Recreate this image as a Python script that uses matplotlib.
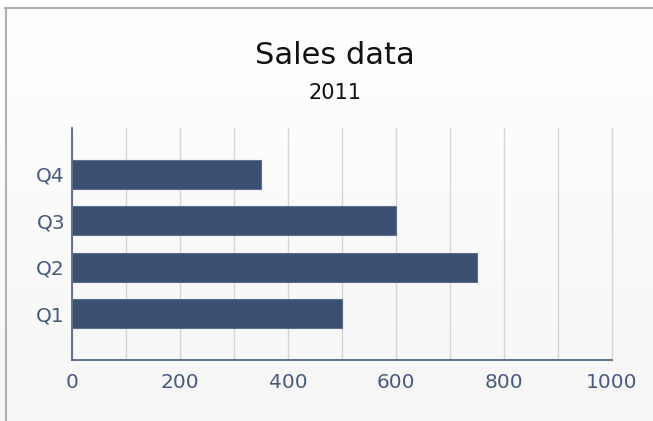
import numpy as np
import matplotlib
matplotlib.use("Agg")
import matplotlib.pyplot as plt
from matplotlib.lines import Line2D

quarters = ["Q1", "Q2", "Q3", "Q4"]
sales = [500, 750, 600, 350]
x_ticks = [0, 200, 400, 600, 800, 1000]

label_color = "#4a5a80"
bar_color = "#3b5070"

fig = plt.figure(figsize=(6.53, 4.21), dpi=100)

# soft white-to-grey background
bg = fig.add_axes([0, 0, 1, 1], zorder=-10)
grad = np.linspace(1.0, 0.965, 256).reshape(-1, 1)
bg.imshow(np.dstack([grad, grad, grad]), aspect="auto", extent=(0, 1, 0, 1))
bg.set_axis_off()

# frame lines at top and left
fig.add_artist(Line2D([5 / 653, 1], [1 - 7.5 / 421] * 2, color="#b0b0b0", lw=1.5))
fig.add_artist(Line2D([5.5 / 653] * 2, [0, 1 - 7.5 / 421], color="#b0b0b0", lw=1.5))

ax = fig.add_axes([72 / 653, 61 / 421, 540 / 653, 232 / 421])
ax.patch.set_alpha(0)

pos = np.arange(1, len(quarters) + 1)
ax.barh(pos, sales, height=0.63, color=bar_color, edgecolor="#5d7090", linewidth=0.8, zorder=3)

ax.set_xlim(0, 1000)
ax.set_ylim(0, 5)
ax.set_xticks(x_ticks)
ax.set_xticks(np.arange(0, 1001, 100), minor=True)
ax.set_yticks(pos)
ax.set_yticklabels(quarters)
ax.grid(axis="x", which="both", color="#d6d6d6", lw=1, zorder=0)
# keep the gridline at 1000 from being clipped at the axes edge
for gl in ax.xaxis.get_gridlines():
    gl.set_clip_on(False)
ax.tick_params(axis="both", which="both", length=0, colors=label_color, labelsize=14.5)
ax.tick_params(axis="x", pad=9)
ax.tick_params(axis="y", pad=5)

for side in ["top", "right"]:
    ax.spines[side].set_visible(False)
for side in ["left", "bottom"]:
    ax.spines[side].set_color(label_color)
    ax.spines[side].set_linewidth(1.2)

fig.text(335 / 653, 1 - 55 / 421, "Sales data", ha="center", va="center", fontsize=22, color="#111111")
fig.text(335 / 653, 1 - 93 / 421, "2011", ha="center", va="center", fontsize=15, color="#111111")

fig.savefig("out.png", dpi=100)
